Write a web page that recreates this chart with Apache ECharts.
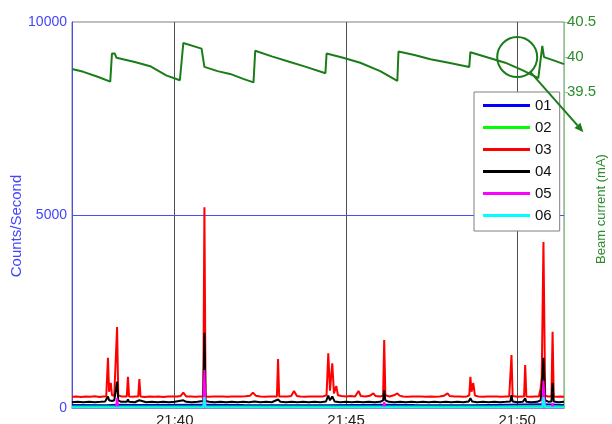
<!DOCTYPE html>
<html>
<head>
<meta charset="utf-8">
<script src="https://cdn.jsdelivr.net/npm/echarts@6/dist/echarts.min.js"></script>
<style>
  html, body { margin: 0; padding: 0; background: #fff; }
  #chart { width: 612px; height: 424px; }
</style>
</head>
<body>
<div id="chart"></div>
<script>
// Time is counted in seconds from 21:37:00.
const START_MINUTE = 37;
const TIME_END = 862;
const timeTicks = [180, 480, 780];          // 21:40, 21:45, 21:50
const beamTicks = [39.5, 40, 40.5];

const seriesNames = ['01', '02', '03', '04', '05', '06'];

const det01 = [[0,75],[60,70],[79,85],[120,75],[232,85],[300,75],[450,70],[547,85],[600,75],[700,70],[826,95],[862,75]];
const det02 = [[0,40],[300,40],[600,40],[862,40]];
const det03 = [
  [0,290],[8,300],[16,285],[24,300],[32,290],[40,305],[48,285],[55,300],[60,300],[63,1300],[65,420],[67,400],[68,650],[70,330],[74,320],[77,330],[79,2100],[81,330],[86,300],[92,295],[96,300],[98,810],[100,300],[106,290],[112,300],[116,300],[118,750],[120,300],
  [128,285],[136,300],[144,290],[152,300],[160,285],[168,300],[176,295],[184,300],[190,310],[195,400],[200,300],[208,295],[216,290],[224,300],[230,300],[232,5200],[234,300],[240,290],[248,300],[256,295],[264,300],[272,290],[280,300],[288,295],[296,300],
  [304,305],[312,320],[317,400],[322,320],[330,300],[338,290],[346,300],[354,295],[359,300],[361,1270],[363,300],[370,295],[378,300],[384,310],[389,440],[394,310],[400,300],[408,290],[416,300],[424,295],[432,300],[440,300],[446,330],[449,1420],[452,450],[456,1160],[459,380],[463,570],[466,330],
  [472,310],[480,300],[488,310],[496,300],[502,440],[506,310],[514,300],[522,320],[528,380],[532,310],[540,300],[545,320],[547,1760],[549,330],[556,300],[564,330],[570,380],[574,320],[580,300],[588,290],[596,300],[604,295],[612,300],[620,290],[628,300],[636,290],[644,300],[652,320],[658,380],[662,310],
  [670,295],[678,300],[686,290],[692,300],[696,330],[698,810],[700,420],[703,650],[706,320],[712,300],[720,290],[728,300],[736,295],[744,300],[752,290],[760,300],[766,300],[768,310],[770,1370],[772,310],[780,290],[788,300],[792,300],[794,1110],[796,300],[804,290],[812,300],[818,300],[821,500],[823,800],[826,4300],[829,320],[834,300],[840,300],[842,1975],[844,300],[850,290],[856,300],[862,290]
];
const det04 = [
  [0,150],[10,160],[20,150],[30,165],[40,150],[50,160],[58,170],[61,220],[63,300],[65,200],[70,180],[74,200],[77,250],[79,680],[81,200],[86,160],[96,160],[98,220],[100,160],[110,150],[118,200],[120,160],[130,150],[140,160],[150,150],[160,165],[170,150],[180,160],[195,200],[200,160],[210,150],[220,160],[230,180],[232,1950],[234,180],
  [240,160],[250,150],[260,160],[270,150],[280,165],[290,150],[300,160],[310,150],[320,170],[330,150],[340,160],[350,150],[361,220],[365,160],[375,150],[385,160],[395,150],[405,160],[415,150],[425,165],[435,150],[445,170],[449,320],[452,200],[456,300],[460,170],[470,150],[480,160],[490,150],[500,160],[510,150],[520,165],[530,150],[540,160],[545,200],[547,460],[549,200],
  [555,160],[565,150],[575,160],[585,150],[595,160],[605,150],[615,165],[625,150],[635,160],[645,150],[655,160],[665,150],[675,160],[685,150],[695,170],[698,250],[701,170],[710,150],[720,160],[730,150],[740,160],[750,150],[760,160],[768,170],[770,330],[772,170],[780,150],[790,160],[794,250],[796,160],[805,150],[815,160],[821,200],[823,500],[826,1300],[829,200],[835,160],[840,170],[842,650],[844,170],[852,150],[862,160]
];
const det05 = [[0,0],[77,0],[79,260],[81,0],[230,0],[232,985],[234,0],[545,0],[547,150],[549,0],[824,0],[826,707],[829,0],[840,0],[842,120],[844,0],[862,0]];
const det06 = [[0,10],[230,10],[232,280],[234,10],[824,10],[826,280],[829,10],[862,10]];

// Beam current in mA
const beamCurrent = [
  [0,39.83],[20,39.79],[45,39.72],[67,39.65],[70,40.05],[75,40.05],[78,39.99],[110,39.93],[137,39.87],[165,39.74],[189,39.67],[195,40.2],[227,40.12],[232,39.86],[255,39.80],[277,39.76],[300,39.69],[318,39.64],[321,40.09],[350,40.01],[382,39.93],[410,39.86],[444,39.77],[446,40.05],
  [475,39.99],[505,39.92],[540,39.80],[570,39.66],[572,40.08],[600,40.03],[628,39.97],[660,39.92],[696,39.86],[698,40.07],[730,39.99],[759,39.92],[790,39.81],[817,39.70],[824,40.16],[827,40.0],[830,39.99],[845,39.95],[862,39.90]
];

// Callout: ring around the beam trace at 21:50 with a pointer toward the beam axis
const calloutCenter = [780, 40.0];
const calloutTarget = [896, 38.93];

const detectorData = [det01, det02, det03, det04, det05, det06];
const detectorColors = ['#0000ff', '#00ff00', '#ff0000', '#000000', '#ff00ff', '#00ffff'];

const FONT = 'Liberation Sans, Arial, sans-serif';
const BLUE_TEXT = '#4444ff';
const GREEN_TEXT = '#2e8b2e';
const BEAM_COLOR = '#1a7d1a';

const chart = echarts.init(document.getElementById('chart'), null, { renderer: 'canvas' });

const series = seriesNames.map((name, i) => ({
  name,
  type: 'line',
  data: detectorData[i],
  xAxisIndex: 0,
  yAxisIndex: 0,
  showSymbol: false,
  symbol: 'none',
  lineStyle: { color: detectorColors[i], width: 2 },
  itemStyle: { color: detectorColors[i] },
  z: 3 + i
}));

// horizontal reference line at 5000
series[0].markLine = {
  silent: true,
  symbol: 'none',
  label: { show: false },
  lineStyle: { color: '#4a4aff', width: 1, type: 'solid' },
  data: [{ yAxis: 5000 }]
};

series.push({
  name: 'Beam current',
  type: 'line',
  data: beamCurrent,
  xAxisIndex: 0,
  yAxisIndex: 1,
  showSymbol: false,
  symbol: 'none',
  lineStyle: { color: BEAM_COLOR, width: 2 },
  itemStyle: { color: BEAM_COLOR },
  z: 10
});

const option = {
  animation: false,
  backgroundColor: '#fff',
  textStyle: { fontFamily: FONT },
  grid: {
    left: 72, right: 48, top: 22, bottom: 16,
    outerBoundsMode: 'none',
    containLabel: false,
    show: true, borderColor: '#808080', borderWidth: 1, backgroundColor: 'transparent'
  },
  legend: {
    data: seriesNames,
    orient: 'vertical',
    left: 474, top: 92,
    icon: 'rect',
    itemWidth: 47, itemHeight: 3,
    itemGap: 7,
    padding: [6, 8, 8, 9],
    borderColor: '#808080', borderWidth: 1,
    backgroundColor: '#fff',
    textStyle: { fontFamily: FONT, fontSize: 15, color: '#111', lineHeight: 14 },
    z: 20
  },
  xAxis: {
    type: 'value',
    min: 0, max: TIME_END,
    axisLine: { show: true, lineStyle: { color: '#808080', width: 1 } },
    axisTick: { show: false, customValues: timeTicks },
    axisLabel: {
      customValues: timeTicks,
      color: '#222', fontSize: 15, margin: 5, fontFamily: FONT,
      formatter: v => '21:' + String(START_MINUTE + Math.round(v / 60)).padStart(2, '0')
    },
    splitLine: { show: true, lineStyle: { color: '#505050', width: 1 } }
  },
  yAxis: [
    {
      type: 'value',
      position: 'left',
      min: 0, max: 10000, interval: 5000,
      name: 'Counts/Second',
      nameLocation: 'middle',
      nameRotate: 90,
      nameGap: 48,
      nameMoveOverlap: false,
      nameTextStyle: { color: BLUE_TEXT, fontSize: 15, fontFamily: FONT, padding: [0, 22, 0, 0] },
      axisLine: { show: true, lineStyle: { color: '#4a4aff', width: 1 } },
      axisTick: { show: false },
      axisLabel: { color: BLUE_TEXT, fontSize: 14, margin: 5, fontFamily: FONT, formatter: v => String(v) },
      splitLine: { show: false }
    },
    {
      type: 'value',
      position: 'right',
      min: 35, max: 40.5, interval: 0.5,
      name: 'Beam current (mA)',
      nameLocation: 'middle',
      nameRotate: 90,
      nameGap: 31,
      nameMoveOverlap: false,
      nameTextStyle: { color: GREEN_TEXT, fontSize: 13, fontFamily: FONT, padding: [0, 0, 0, 12] },
      axisLine: { show: true, lineStyle: { color: '#86cc86', width: 1 } },
      axisTick: { show: true, length: 4, customValues: beamTicks, lineStyle: { color: '#86cc86' } },
      axisLabel: { customValues: beamTicks, color: GREEN_TEXT, fontSize: 15, margin: 3, fontFamily: FONT },
      splitLine: { show: false }
    }
  ],
  series
};

chart.setOption(option);

// Draw the callout ring and arrow in pixel space derived from the axes
(function drawCallout() {
  const c = chart.convertToPixel({ xAxisIndex: 0, yAxisIndex: 1 }, calloutCenter);
  const t = chart.convertToPixel({ xAxisIndex: 0, yAxisIndex: 1 }, calloutTarget);
  const r = 20;
  const dx = t[0] - c[0], dy = t[1] - c[1];
  const len = Math.hypot(dx, dy);
  const ux = dx / len, uy = dy / len;
  const start = [c[0] + ux * r, c[1] + uy * r];
  const head = 9, half = 4;
  const base = [t[0] - ux * head, t[1] - uy * head];
  chart.setOption({
    graphic: [
      { type: 'circle', shape: { cx: c[0], cy: c[1], r }, style: { fill: 'none', stroke: BEAM_COLOR, lineWidth: 2 }, z: 30 },
      { type: 'line', shape: { x1: start[0], y1: start[1], x2: base[0], y2: base[1] }, style: { stroke: BEAM_COLOR, lineWidth: 2 }, z: 30 },
      { type: 'polygon', shape: { points: [t, [base[0] - uy * half, base[1] + ux * half], [base[0] + uy * half, base[1] - ux * half]] }, style: { fill: BEAM_COLOR }, z: 30 }
    ]
  });
})();
</script>
</body>
</html>
